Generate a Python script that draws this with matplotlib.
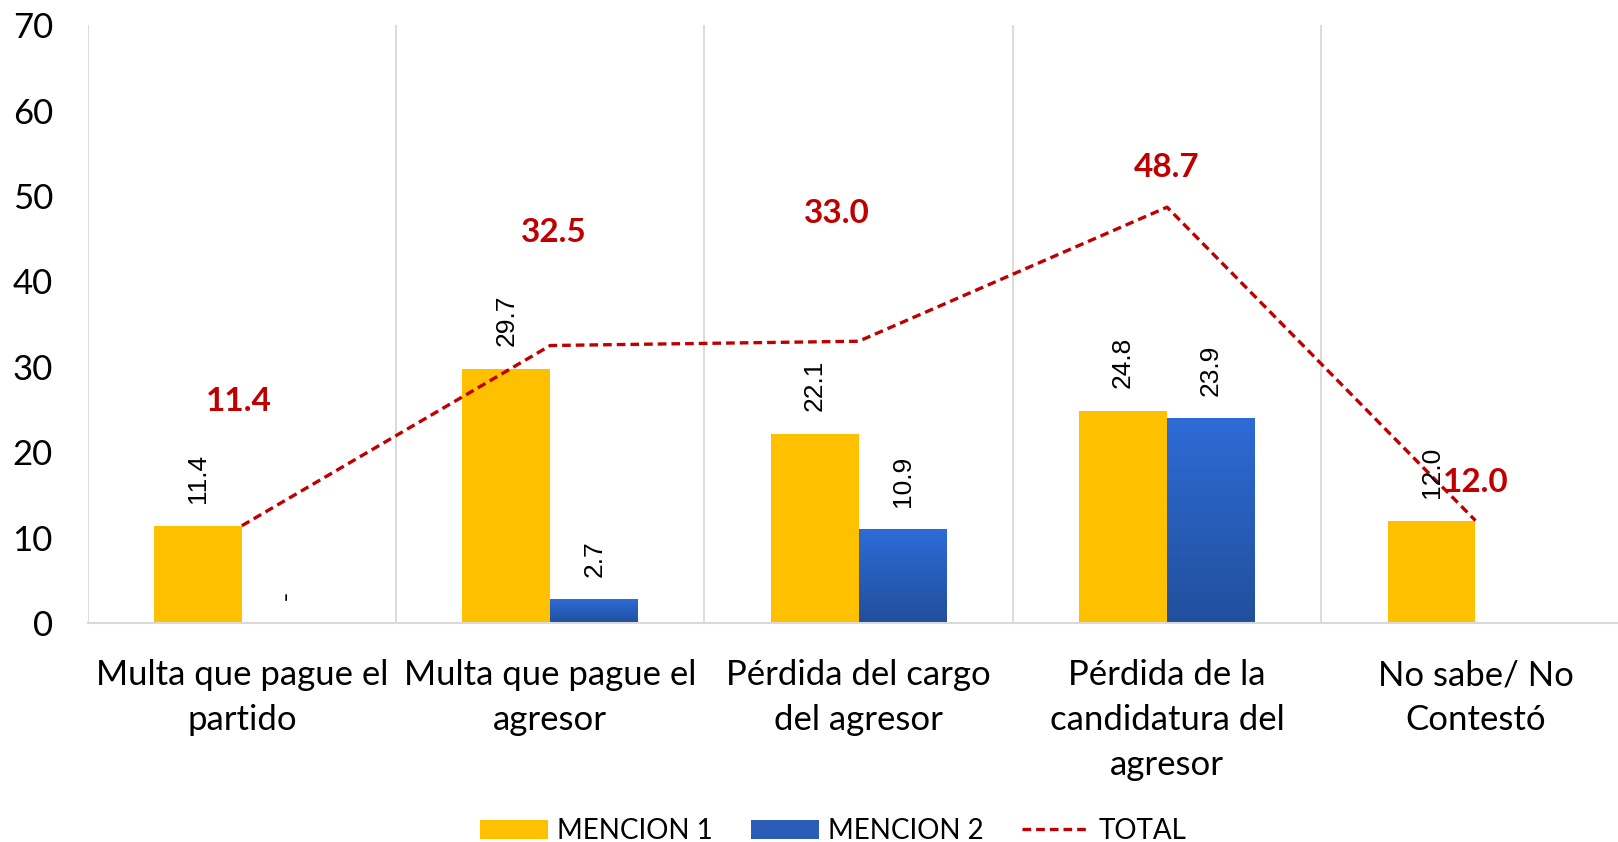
import numpy as np
import matplotlib
matplotlib.use("Agg")
import matplotlib.pyplot as plt
from matplotlib.patches import Patch
from matplotlib.lines import Line2D

categories = ["Multa que pague el\npartido", "Multa que pague el\nagresor",
              "Pérdida del cargo\ndel agresor", "Pérdida de la\ncandidatura del\nagresor",
              "No sabe/ No\nContestó"]
mencion1 = [11.4, 29.7, 22.1, 24.8, 12.0]
mencion2 = [0.0, 2.7, 10.9, 23.9, 0.0]
mencion2_labels = ["-", "2.7", "10.9", "23.9", ""]
total = [11.4, 32.5, 33.0, 48.7, 12.0]
# where the bold total labels sit (x shift, y shift in data units)
total_label_shift = [(-0.01, 14.6), (0.01, 13.2), (-0.07, 15.0), (0.0, 4.6), (0.0, 4.5)]

plt.rcParams['font.family'] = ['Lato', 'DejaVu Sans']

fig = plt.figure(figsize=(16.18, 8.42), dpi=100)
ax = fig.add_axes([0.0542, 0.260, 0.953, 0.710])

pos = np.arange(len(categories))
w = 0.285
yellow = "#FFC000"

ax.bar(pos - w / 2, mencion1, w, color=yellow, zorder=2)
blue_bars = ax.bar(pos + w / 2, mencion2, w, color="none", zorder=2)

# blue gradient fill, lighter at the top
grad = np.linspace(0, 1, 256).reshape(-1, 1)
cmap = matplotlib.colors.LinearSegmentedColormap.from_list("b", ["#2E6BD6", "#214F9C"])
for b in blue_bars:
    h = b.get_height()
    if h <= 0:
        continue
    x0 = b.get_x()
    ax.imshow(grad, cmap=cmap, aspect="auto", extent=[x0, x0 + b.get_width(), 0, h],
              origin="upper", zorder=2, interpolation="bicubic")

ax.plot(pos, total, color="#C00000", linestyle=(0, (2.6, 1.5)), linewidth=2.4, zorder=3)

# value labels
for i in range(len(pos)):
    ax.text(pos[i] - w / 2, mencion1[i] + 2.7, "%.1f" % mencion1[i], rotation=90,
            ha="center", va="bottom", fontsize=19, family="Liberation Sans", zorder=4)
    if mencion2_labels[i]:
        ax.text(pos[i] + w / 2, mencion2[i] + 2.7, mencion2_labels[i], rotation=90,
                ha="center", va="bottom", fontsize=19, family="Liberation Sans", zorder=4)
    dx, dy = total_label_shift[i]
    ax.text(pos[i] + dx, total[i] + dy, "%.1f" % total[i], ha="center", va="center",
            fontsize=24, fontweight="bold", color="#C00000", zorder=5)

ax.set_xlim(-0.5, 4.5)
ax.set_ylim(0, 70)
ax.set_yticks(range(0, 71, 10))
ax.set_xticks(pos)
ax.set_xticklabels(categories, fontsize=25, linespacing=1.5)
ax.set_xticks(np.arange(-0.5, 4.6, 1), minor=True)
ax.tick_params(axis="y", length=0, labelsize=25, pad=25)
ax.tick_params(axis="x", which="both", length=0, pad=26)
ax.grid(axis="x", which="minor", color="#D9D9D9", linewidth=1.3, zorder=0)
for s in ["top", "right", "left"]:
    ax.spines[s].set_visible(False)
ax.spines["bottom"].set_color("#D9D9D9")
ax.spines["bottom"].set_linewidth(1.5)

handles = [Patch(facecolor=yellow), Patch(facecolor="#2A5CB8"),
           Line2D([0], [0], color="#C00000", linestyle=(0, (2.6, 1.5)), linewidth=2.4)]
fig.legend(handles, ["MENCION 1", "MENCION 2", "TOTAL"], loc="center",
           bbox_to_anchor=(0.515, 0.013), ncol=3, frameon=False, fontsize=20,
           handlelength=2.45, handleheight=0.7, columnspacing=1.4, handletextpad=0.3)

fig.savefig("out.png", dpi=100)
